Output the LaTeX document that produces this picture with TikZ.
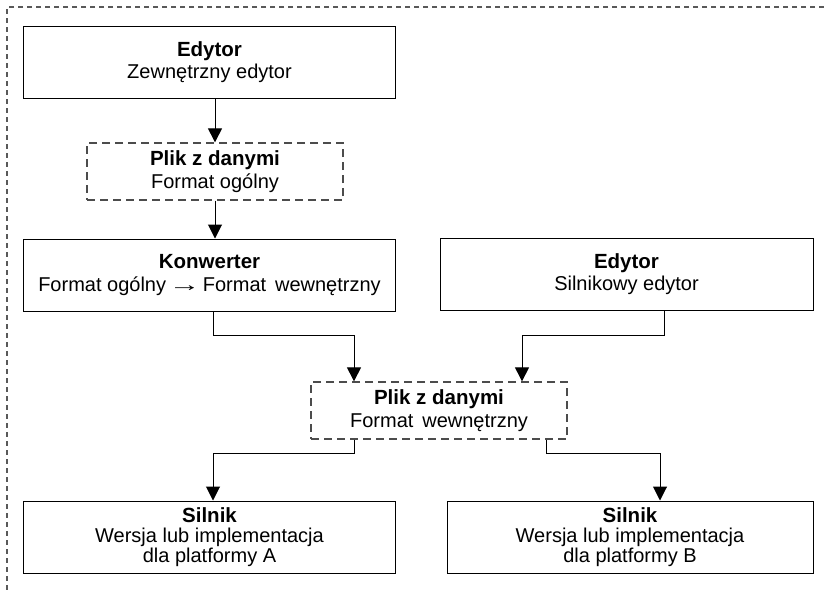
\documentclass[tikz,border=0pt]{standalone}
\usepackage{fontspec}
\usepackage{graphicx}
\setmainfont{Liberation Sans}
\usetikzlibrary{arrows.meta}

\newcommand{\ttl}[1]{{\fontsize{20.5}{22}\selectfont\bfseries #1}}
\newcommand{\longto}{\hspace{0.12em}\scalebox{1.6}[1]{→}\hspace{0.12em}}

\begin{document}
\begin{tikzpicture}[x=1pt,y=-1pt,
  box/.style={draw=black, line width=1pt, rectangle, align=center,
    font=\fontsize{20}{22.5}\selectfont, inner sep=0pt},
  filebox/.style={box, draw=black!70, line width=1.3pt, dash pattern=on 8pt off 5pt},
  arr/.style={draw=black, line width=1pt, -{Triangle[length=14pt,width=14pt]}},
  frame/.style={draw=black!65, line width=1.1pt, dash pattern=on 5pt off 4pt}
]
\useasboundingbox (0,0) rectangle (824,590);

% outer frame (only its top and left sides are visible)
\draw[frame] (824,7) -- (7,7) -- (7,590);

% boxes
\node[box, minimum width=372pt, minimum height=72pt] (ed1) at (209.5,62)
  {\ttl{Edytor}\\Zewnętrzny edytor};
\node[filebox, minimum width=256pt, minimum height=57pt] (pl1) at (215,171.5)
  {\ttl{Plik z danymi}\\Format ogólny};
\node[box, minimum width=372pt, minimum height=72pt] (kon) at (209.5,275)
  {\ttl{Konwerter}\\Format ogólny\longto Format\, wewnętrzny};
\node[box, minimum width=373pt, minimum height=72pt] (ed2) at (626.5,274)
  {\ttl{Edytor}\\Silnikowy edytor};
\node[filebox, minimum width=256pt, minimum height=57pt] (pl2) at (439,410.5)
  {\ttl{Plik z danymi}\\Format\, wewnętrzny};
\node[box, minimum width=372pt, minimum height=72pt] (silA) at (209.5,537)
  {\ttl{Silnik}\\[-2.5pt]Wersja lub implementacja\\[-2.5pt]dla platformy A};
\node[box, minimum width=366pt, minimum height=72pt] (silB) at (630,537)
  {\ttl{Silnik}\\[-2.5pt]Wersja lub implementacja\\[-2.5pt]dla platformy B};

% bend points of the connectors
\coordinate (jA) at (354,335);
\coordinate (jB) at (522,335);
\coordinate (jC) at (213,453);
\coordinate (jD) at (660,453);

% connectors
\draw[arr] (ed1.south -| pl1.north) -- (pl1.north);
\draw[arr] (pl1.south) -- (pl1.south |- kon.north);
\draw[arr] (kon.south -| jC) |- (jA) -- (jA |- pl2.north);
\draw[arr] ([xshift=37.5pt]ed2.south) |- (jB) -- (jB |- pl2.north);
\draw[arr] (pl2.south -| jA) |- (jC) -- (jC |- silA.north);
\draw[arr] ([xshift=107pt]pl2.south) |- (jD) -- (jD |- silB.north);
\end{tikzpicture}
\end{document}
